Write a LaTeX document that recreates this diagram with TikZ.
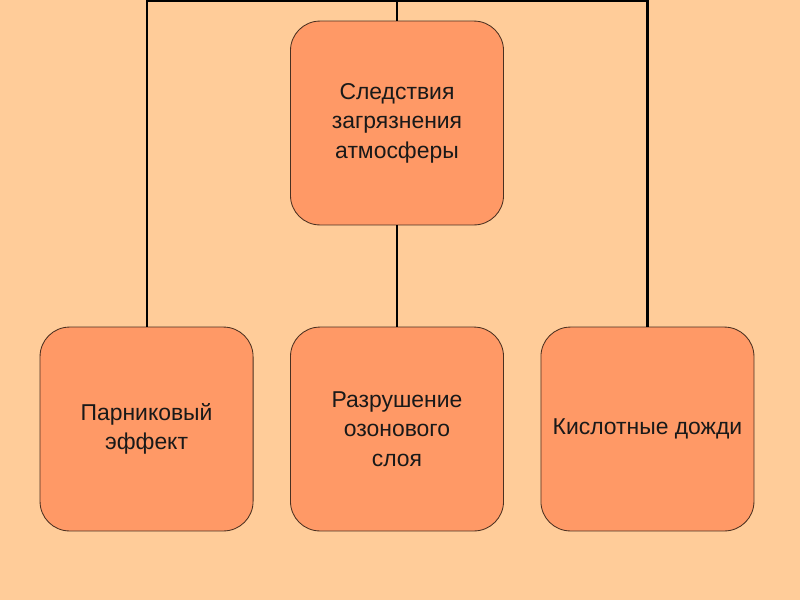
\documentclass[tikz,border=0pt]{standalone}
\usepackage{fontspec}
\setmainfont{Liberation Sans}
\usepackage{xcolor}
\usepackage{tikz}
\usetikzlibrary{positioning}
\definecolor{peach}{HTML}{FFCC99}
\definecolor{salmon}{HTML}{FF9966}
\definecolor{edge}{HTML}{4A3020}

\begin{document}
\begin{tikzpicture}[x=0.025cm, y=-0.025cm,
    card/.style={draw=edge, line width=0.6pt, fill=salmon, rounded corners=21pt,
      minimum width=151.5pt, minimum height=145pt, align=center, inner sep=2pt,
      font=\fontsize{16.3}{21}\selectfont, text=black!90},
    link/.style={line width=1.5pt, black}]
    % Background
    \fill[peach] (0,0) rectangle (800,600);
    \useasboundingbox (0,0) rectangle (800,600);
    % Top box
    \node[card] (sled) at (397,123) {Следствия\\загрязнения\\атмосферы};
    % Bottom row
    \node[card] (ozon) at (397,429) {Разрушение\\озонового\\слоя};
    \node[card, left=26pt of ozon] (parnik) {Парниковый\\эффект};
    \node[card, right=26pt of ozon] (kislot) {Кислотные дожди};
    % Bus along the top edge
    \coordinate (bus) at (397,1);
    \draw[link] (parnik.north) |- (bus) -| (kislot.north);
    \draw[link] (bus) -- (sled.north);
    \draw[link] (sled.south) -- (ozon.north);
  \end{tikzpicture}
\end{document}
